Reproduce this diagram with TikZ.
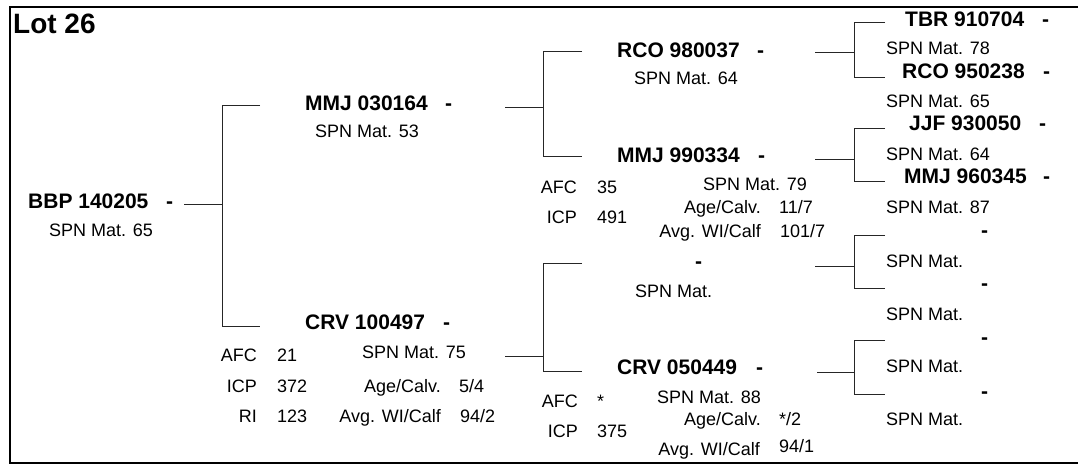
\documentclass[tikz,border=0pt]{standalone}
\usepackage{fontspec}
\setmainfont{Liberation Sans}
\begin{document}
\begin{tikzpicture}[x=1pt,y=-1pt,
  lbl/.style={inner sep=0pt, anchor=base west, font=\fontsize{18}{20}\selectfont},
  lblr/.style={lbl, anchor=base east},
  nm/.style={inner sep=0pt, anchor=base west, font=\fontsize{21}{24}\selectfont\bfseries},
  ttl/.style={inner sep=0pt, anchor=base west, font=\fontsize{28}{30}\selectfont\bfseries},
  link/.style={line width=0.8pt, black!85},
  frame/.style={line width=1.2pt, black}]
\useasboundingbox (0,0) rectangle (1078,466);
\draw[frame] (1090,7) -- (10,7) -- (10,463) -- (1090,463);
\node[ttl] (lot) at (13,33) {Lot 26};

% level 0
\node[nm] (a) at (28,208) {BBP 140205};
\node[nm] (ad) at (166,208) {-};
\node[lbl] (as) at (49,236) {SPN Mat. 65};
\coordinate (a0) at (184,204); \coordinate (a1) at (222,204);
\coordinate (a2) at (222,105); \coordinate (a3) at (260,105);
\coordinate (a4) at (222,326); \coordinate (a5) at (260,326);
\draw[link] (a0) -- (a1);
\draw[link] (a3) -- (a2) -- (a4) -- (a5);

% level 1 top
\node[nm] (b) at (305,110) {MMJ 030164};
\node[nm] (bd) at (445,110) {-};
\node[lbl] (bs) at (315,137) {SPN Mat. 53};
\coordinate (b0) at (505,107); \coordinate (b1) at (543,107);
\coordinate (b2) at (543,51); \coordinate (b3) at (582,51);
\coordinate (b4) at (543,156); \coordinate (b5) at (582,156);
\draw[link] (b0) -- (b1);
\draw[link] (b3) -- (b2) -- (b4) -- (b5);

% level 1 bottom
\node[nm] (c) at (305,329) {CRV 100497};
\node[nm] (cd) at (443,329) {-};
\node[lblr] (cafc) at (257,361) {AFC};
\node[lbl] (cafcv) at (277,361) {21};
\node[lbl] (cs) at (362,358) {SPN Mat. 75};
\node[lblr] (cicp) at (257,392) {ICP};
\node[lbl] (cicpv) at (277,392) {372};
\node[lblr] (cage) at (441,392) {Age/Calv.};
\node[lbl] (cagev) at (459,392) {5/4};
\node[lblr] (cri) at (257,422) {RI};
\node[lbl] (criv) at (277,422) {123};
\node[lblr] (cwi) at (441,422) {Avg. WI/Calf};
\node[lbl] (cwiv) at (460,422) {94/2};
\coordinate (c0) at (505,356); \coordinate (c1) at (543,356);
\coordinate (c2) at (543,263); \coordinate (c3) at (582,263);
\coordinate (c4) at (543,371); \coordinate (c5) at (582,371);
\draw[link] (c0) -- (c1);
\draw[link] (c3) -- (c2) -- (c4) -- (c5);

% level 2: RCO 980037
\node[nm] (d) at (617,57) {RCO 980037};
\node[nm] (dd) at (757,57) {-};
\node[lbl] (ds) at (634,84) {SPN Mat. 64};
\coordinate (d0) at (815,52); \coordinate (d1) at (854,52);
\coordinate (d2) at (854,22); \coordinate (d3) at (885,22);
\coordinate (d4) at (854,77); \coordinate (d5) at (885,77);
\draw[link] (d0) -- (d1);
\draw[link] (d3) -- (d2) -- (d4) -- (d5);

% level 2: MMJ 990334
\node[nm] (e) at (617,162) {MMJ 990334};
\node[nm] (ed) at (758,162) {-};
\node[lblr] (eafc) at (577,193) {AFC};
\node[lbl] (eafcv) at (597,193) {35};
\node[lbl] (es) at (703,190) {SPN Mat. 79};
\node[lblr] (eage) at (761,213) {Age/Calv.};
\node[lbl] (eagev) at (779,213) {11/7};
\node[lblr] (eicp) at (577,223) {ICP};
\node[lbl] (eicpv) at (597,223) {491};
\node[lblr] (ewi) at (761,237) {Avg. WI/Calf};
\node[lbl] (ewiv) at (780,237) {101/7};
\coordinate (e0) at (815,159); \coordinate (e1) at (854,159);
\coordinate (e2) at (854,128); \coordinate (e3) at (885,128);
\coordinate (e4) at (854,181); \coordinate (e5) at (885,181);
\draw[link] (e0) -- (e1);
\draw[link] (e3) -- (e2) -- (e4) -- (e5);

% level 2: empty
\node[nm] (f) at (695,268) {-};
\node[lbl] (fs) at (635,297) {SPN Mat.};
\coordinate (f0) at (815,266); \coordinate (f1) at (854,266);
\coordinate (f2) at (854,235); \coordinate (f3) at (885,235);
\coordinate (f4) at (854,288); \coordinate (f5) at (885,288);
\draw[link] (f0) -- (f1);
\draw[link] (f3) -- (f2) -- (f4) -- (f5);

% level 2: CRV 050449
\node[nm] (g) at (617,374) {CRV 050449};
\node[nm] (gd) at (756,374) {-};
\node[lblr] (gafc) at (578,407) {AFC};
\node[lbl] (gafcv) at (597,407) {*};
\node[lbl] (gs) at (657,403) {SPN Mat. 88};
\node[lblr] (gage) at (761,425) {Age/Calv.};
\node[lbl] (gagev) at (779,425) {*/2};
\node[lblr] (gicp) at (578,437) {ICP};
\node[lbl] (gicpv) at (597,437) {375};
\node[lblr] (gwi) at (760,455) {Avg. WI/Calf};
\node[lbl] (gwiv) at (779,452) {94/1};
\coordinate (g0) at (817,372); \coordinate (g1) at (854,372);
\coordinate (g2) at (854,340); \coordinate (g3) at (885,340);
\coordinate (g4) at (854,394); \coordinate (g5) at (885,394);
\draw[link] (g0) -- (g1);
\draw[link] (g3) -- (g2) -- (g4) -- (g5);

% level 3
\node[nm] (h1) at (905,26) {TBR 910704};
\node[nm] (h1d) at (1042,26) {-};
\node[lbl] (h1s) at (886,54) {SPN Mat. 78};
\node[nm] (h2) at (902,78) {RCO 950238};
\node[nm] (h2d) at (1043,78) {-};
\node[lbl] (h2s) at (886,107) {SPN Mat. 65};
\node[nm] (h3) at (909,130) {JJF 930050};
\node[nm] (h3d) at (1039,130) {-};
\node[lbl] (h3s) at (886,160) {SPN Mat. 64};
\node[nm] (h4) at (904,183) {MMJ 960345};
\node[nm] (h4d) at (1043,183) {-};
\node[lbl] (h4s) at (886,213) {SPN Mat. 87};
\node[nm] (h5d) at (981,237) {-};
\node[lbl] (h5s) at (886,267) {SPN Mat.};
\node[nm] (h6d) at (981,290) {-};
\node[lbl] (h6s) at (886,320) {SPN Mat.};
\node[nm] (h7d) at (981,344) {-};
\node[lbl] (h7s) at (886,372) {SPN Mat.};
\node[nm] (h8d) at (981,398) {-};
\node[lbl] (h8s) at (886,425) {SPN Mat.};
\end{tikzpicture}
\end{document}
